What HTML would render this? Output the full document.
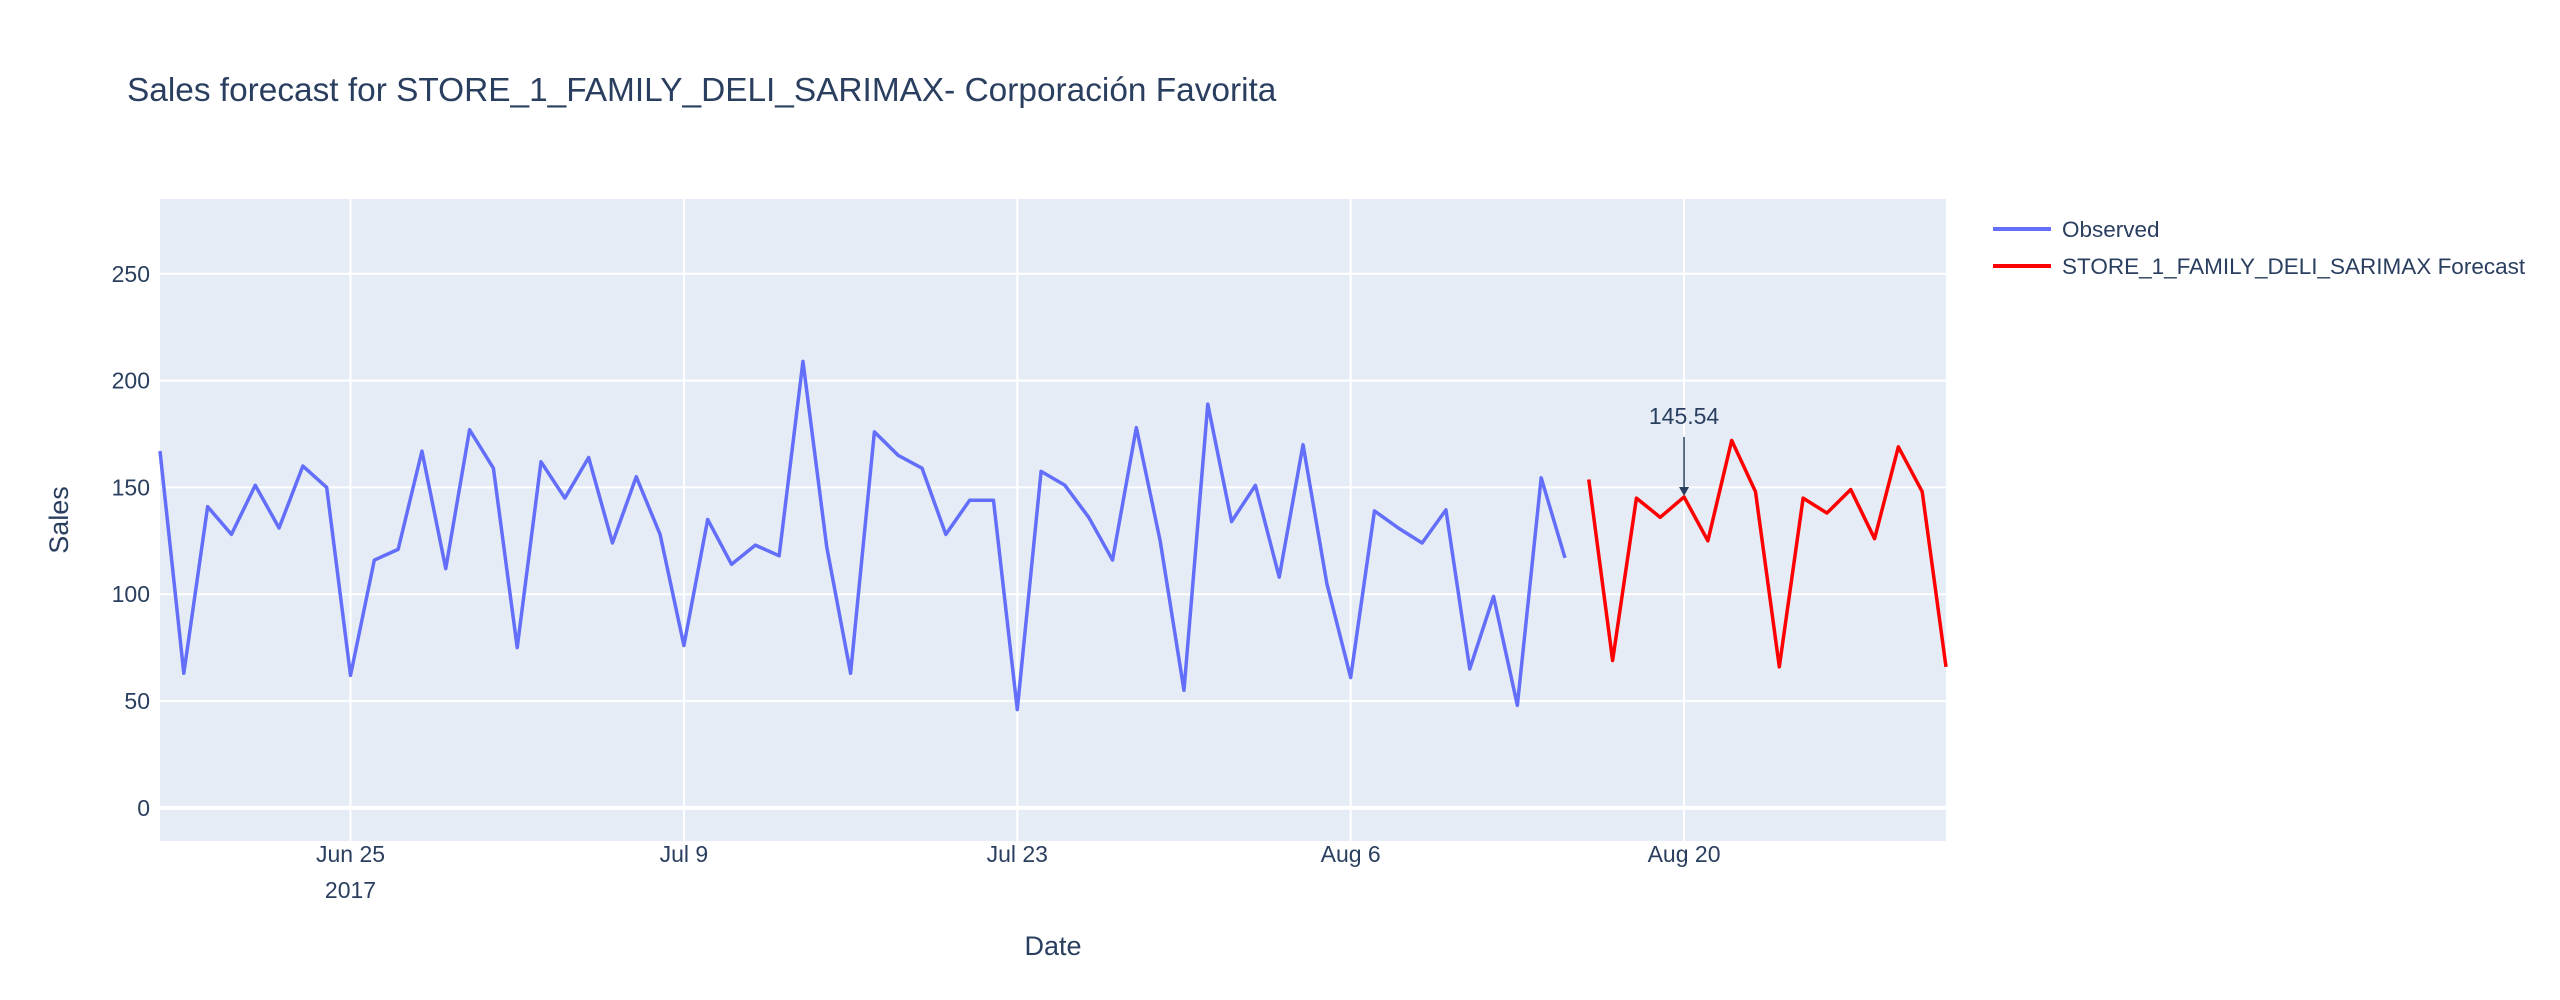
<!DOCTYPE html>
<html><head><meta charset="utf-8"><style>
body{margin:0;background:#fff;}
svg{display:block;font-family:"Liberation Sans","DejaVu Sans",sans-serif;}
</style></head><body>
<svg id="chart" width="2560" height="1000">
<text x="127" y="101" font-size="33.4" fill="#2a3f5f">Sales forecast for STORE_1_FAMILY_DELI_SARIMAX- Corporación Favorita</text>
<rect x="160" y="199" width="1786" height="642" fill="#e5ecf6"/>
<g id="grid"></g>
<g id="series"></g>
<g id="axes"></g>
<text x="1053" y="955" font-size="27" fill="#2a3f5f" text-anchor="middle">Date</text>
<text x="0" y="0" font-size="27" fill="#2a3f5f" text-anchor="middle" transform="translate(68,520) rotate(-90)">Sales</text>
<g>
<g>
<line x1="1993" y1="229" x2="2051" y2="229" stroke="#636efa" stroke-width="4"/>
<text x="2062" y="237" font-size="22.5" fill="#2a3f5f">Observed</text></g>
<g>
<line x1="1993" y1="266" x2="2051" y2="266" stroke="#ff0000" stroke-width="4"/>
<text x="2062" y="274" font-size="22.5" fill="#2a3f5f">STORE_1_FAMILY_DELI_SARIMAX Forecast</text></g>
</g>
</svg>
<script>
const observedValues=[167,63,141,128,151,131,160,150,62,116,121,167,112,177,159,75,162,145,164,124,155,128,76,135,114,123,118,209,122,63,176,165,159,128,144,144,46,157.5,151,136,116,178,125,55,189,134,151,108,170,105,61,139,131,124,139.5,65,99,48,154.5,117];
const forecastValues=[153.7,69,145,136,145.54,125,172,148,66,145,138,149,126,169,148,66];
const yTicks=[0,50,100,150,200,250];
const xTickLabels=["Jun 25","Jul 9","Jul 23","Aug 6","Aug 20"];
const xTickDays=[8,22,36,50,64];
const annotationDay=64, annotationValue=145.54, annotationText="145.54";
const L=160,R=1946,T=199,B=841,D0=0,D1=75,Y0=-15.5,Y1=285;
const xs=d=>L+(d-D0)/(D1-D0)*(R-L);
const ys=v=>B-(v-Y0)/(Y1-Y0)*(B-T);
const NS="http://www.w3.org/2000/svg";
function mk(t,a,p){const e=document.createElementNS(NS,t);for(const k in a)e.setAttribute(k,a[k]);p.appendChild(e);return e;}
const grid=document.getElementById('grid'),axes=document.getElementById('axes'),series=document.getElementById('series'),svg=document.getElementById('chart');
yTicks.forEach(v=>{
 const l=mk('line',{x1:L,x2:R,y1:ys(v),y2:ys(v),stroke:'#fff','stroke-width':v===0?4:2},grid);
 
 
 const t=mk('text',{x:150,y:ys(v)+8,'font-size':23,fill:'#2a3f5f','text-anchor':'end'},axes);
 t.textContent=v;
 
 
});
xTickDays.forEach((d,i)=>{
 const l=mk('line',{x1:xs(d),x2:xs(d),y1:T,y2:B,stroke:'#fff','stroke-width':2},grid);
 
 
 const t=mk('text',{x:xs(d),y:862,'font-size':23,fill:'#2a3f5f','text-anchor':'middle'},axes);
 t.textContent=xTickLabels[i];
 
 
});
const yr=mk('text',{x:xs(8),y:898,'font-size':23,fill:'#2a3f5f','text-anchor':'middle'},axes);
yr.textContent='2017';


const po=mk('polyline',{points:observedValues.map((v,i)=>xs(i)+','+ys(v)).join(' '),fill:'none',stroke:'#636efa','stroke-width':3.5,'stroke-linejoin':'round'},series);


const off=observedValues.length;
const pf=mk('polyline',{points:forecastValues.map((v,i)=>xs(i+off)+','+ys(v)).join(' '),fill:'none',stroke:'#ff0000','stroke-width':3.5,'stroke-linejoin':'round'},series);


const ax=xs(annotationDay),ay=ys(annotationValue);
const ag=mk('g',{},svg);


mk('line',{x1:ax,x2:ax,y1:ay-60,y2:ay-8,stroke:'#2a3f5f','stroke-width':1.5},ag);
mk('polygon',{points:`${ax-5},${ay-10} ${ax+5},${ay-10} ${ax},${ay-1}`,fill:'#2a3f5f'},ag);
const at=mk('text',{x:ax,y:ay-73,'font-size':23,fill:'#2a3f5f','text-anchor':'middle'},ag);
at.textContent=annotationText;
</script>
</body></html>
